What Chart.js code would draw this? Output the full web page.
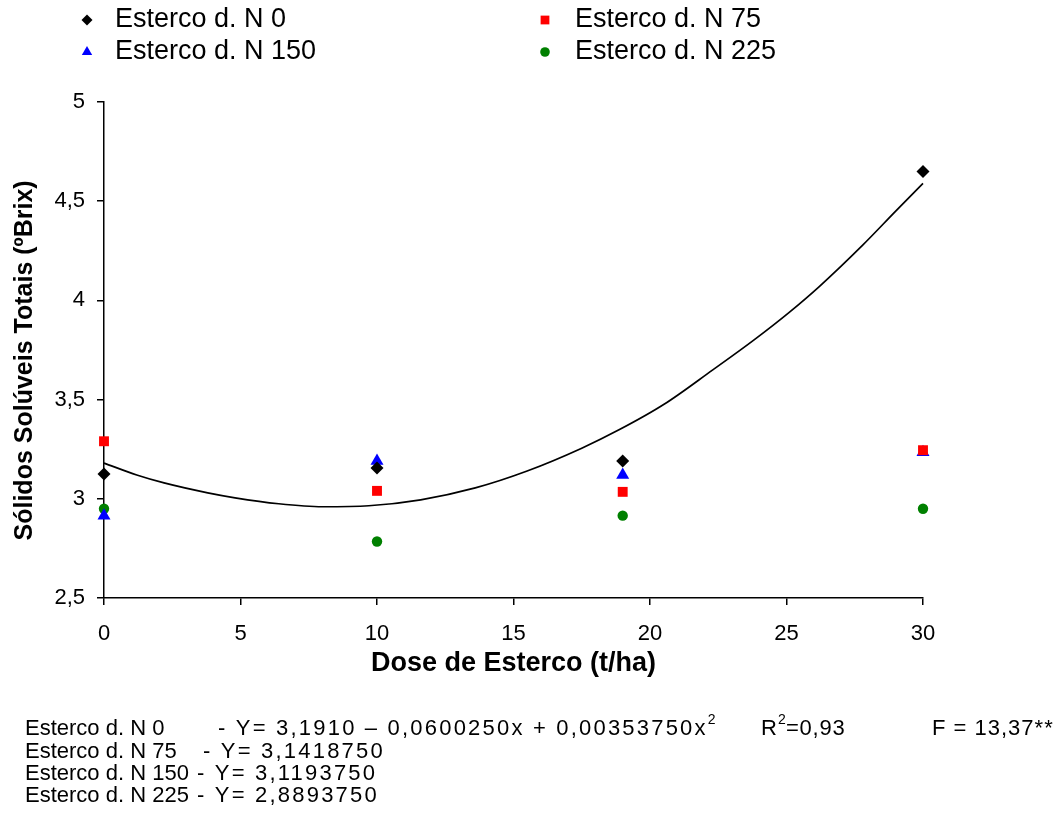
<!DOCTYPE html>
<html><head><meta charset="utf-8">
<script src="https://cdn.jsdelivr.net/npm/chart.js@4.4.1/dist/chart.umd.min.js"></script>
<style>html,body{margin:0;padding:0;background:#fff;}canvas{display:block;}</style>
</head><body>
<canvas id="c" width="1055" height="820"></canvas>
<script>
const doses = [0, 10, 19, 30];
const n0 = [3.125, 3.155, 3.19, 4.65];
const n75 = [3.29, 3.04, 3.035, 3.245];
const n150 = [2.915, 3.19, 3.12, 3.235];
const n225 = [2.95, 2.785, 2.915, 2.95];
const seriesLabels = ['Esterco d. N 0', 'Esterco d. N 75', 'Esterco d. N 150', 'Esterco d. N 225'];
const curveX = [0, 1.2, 2.2, 3.8, 4.8, 6.4, 8, 9.7, 11.6, 13.6, 15.5, 17.5, 18.9, 20.5, 22.3, 23.8, 25.1, 26.2, 27.8, 29, 30];
const curveY = [3.18, 3.12, 3.08, 3.03, 3.005, 2.975, 2.96, 2.965, 2.995, 3.055, 3.14, 3.255, 3.35, 3.475, 3.65, 3.8, 3.94, 4.07, 4.28, 4.45, 4.59];
const xTickLabels = ['0', '5', '10', '15', '20', '25', '30'];
const yTickLabels = ['2,5', '3', '3,5', '4', '4,5', '5'];
const eqLabels = ['Esterco d. N 0', 'Esterco d. N 75', 'Esterco d. N 150', 'Esterco d. N 225'];
const eqTexts = ['- Y= 3,1910 \u2013 0,0600250x + 0,00353750x', '- Y= 3,1418750', '- Y= 3,1193750', '- Y= 2,8893750'];
const r2Text = '0,93';
const fText = 'F = 13,37**';

const FAM = '"Liberation Sans", Arial, Helvetica, sans-serif';
const colors = ['#000000', '#ff0000', '#0000ff', '#008000'];
const styles = ['rectRot', 'rect', 'triangle', 'circle'];
const radii = [6.5, 7, 7.5, 5.2];
const legendRadii = [5.5, 6.2, 6, 4.8];
const seriesValues = [n0, n75, n150, n225];

const datasets = seriesValues.map((vals, i) => ({
  label: seriesLabels[i],
  data: doses.map((d, j) => ({x: d, y: vals[j]})),
  pointStyle: styles[i],
  pointRadius: radii[i],
  pointBackgroundColor: colors[i],
  pointBorderColor: colors[i],
  pointBorderWidth: 0,
  backgroundColor: colors[i],
  borderColor: colors[i],
  showLine: false,
  clip: false,
  order: 1
}));
datasets.push({
  label: 'curve',
  data: curveX.map((x, i) => ({x: x, y: curveY[i]})),
  showLine: true,
  pointRadius: 0,
  borderColor: '#000',
  borderWidth: 1.7,
  cubicInterpolationMode: 'monotone',
  fill: false,
  clip: false,
  order: 2
});

const legendPlugin = {
  id: 'customLegend',
  afterDraw(chart) {
    const ctx = chart.ctx;
    const cols = [{mx: 87, tx: 115}, {mx: 545, tx: 575}];
    const rows = [20, 52];
    for (let i = 0; i < 4; i++) {
      const ds = chart.data.datasets[i];
      const c = cols[i % 2], y = rows[Math.floor(i / 2)];
      ctx.save();
      ctx.fillStyle = ds.backgroundColor;
      ctx.strokeStyle = ds.borderColor;
      Chart.helpers.drawPoint(ctx, {pointStyle: ds.pointStyle, radius: legendRadii[i], borderWidth: 0, rotation: 0}, c.mx, y);
      ctx.fillStyle = '#000';
      ctx.font = '27px ' + FAM;
      ctx.textBaseline = 'middle';
      ctx.textAlign = 'left';
      ctx.fillText(ds.label, c.tx, y);
      ctx.restore();
    }
  }
};

const notesPlugin = {
  id: 'notes',
  afterDraw(chart) {
    const ctx = chart.ctx;
    const ys = [729, 752, 774, 796];
    const eqX = [218, 203, 197, 197];
    ctx.save();
    ctx.fillStyle = '#000';
    ctx.textBaseline = 'middle';
    ctx.textAlign = 'left';
    const big = '22px ' + FAM, small = '14px ' + FAM;
    for (let i = 0; i < 4; i++) {
      ctx.font = big;
      ctx.letterSpacing = '0px';
      ctx.fillText(eqLabels[i], 25, ys[i]);
      ctx.letterSpacing = '2.2px';
      ctx.fillText(eqTexts[i], eqX[i], ys[i]);
      if (i === 0) {
        const w = ctx.measureText(eqTexts[i]).width;
        ctx.font = small;
        ctx.letterSpacing = '0px';
        ctx.fillText('2', eqX[i] + w, ys[i] - 9);
      }
    }
    ctx.letterSpacing = '0px';
    ctx.font = big;
    ctx.fillText('R', 761, ys[0]);
    const rw = ctx.measureText('R').width;
    ctx.font = small;
    ctx.fillText('2', 761 + rw + 1, ys[0] - 9);
    ctx.font = big;
    ctx.letterSpacing = '0.8px';
    ctx.fillText('=' + r2Text, 761 + rw + 9, ys[0]);
    ctx.letterSpacing = '1px';
    ctx.fillText(fText, 932, ys[0]);
    ctx.restore();
  }
};

new Chart(document.getElementById('c'), {
  type: 'scatter',
  data: {datasets: datasets},
  options: {
    responsive: false,
    animation: false,
    devicePixelRatio: 1,
    layout: {padding: {left: 0, top: 102, right: 132, bottom: 136}},
    plugins: {legend: {display: false}, tooltip: {enabled: false}},
    scales: {
      x: {
        type: 'linear', min: 0, max: 30,
        afterBuildTicks(s) { s.ticks = xTickLabels.map(t => ({value: Number(t)})); },
        afterFit(s) { s.height = 86; },
        grid: {display: true, drawOnChartArea: false, drawTicks: true, tickLength: 7, color: '#000', lineWidth: 1.5},
        border: {display: true, color: '#000', width: 1.5},
        ticks: {color: '#000', font: {family: FAM, size: 22}, padding: 16, maxRotation: 0, autoSkip: false,
                callback: (v, i) => xTickLabels[i]},
        title: {display: true, text: 'Dose de Esterco (t/ha)', color: '#000', font: {family: FAM, size: 27, weight: 'bold'}, padding: {top: 0, bottom: 4}}
      },
      y: {
        type: 'linear', min: 2.5, max: 5,
        ticks: {stepSize: 0.5, color: '#000', font: {family: FAM, size: 22}, padding: 12,
                callback: (v, i) => yTickLabels[i]},
        afterFit(s) { s.width = 104; },
        grid: {display: true, drawOnChartArea: false, drawTicks: true, tickLength: 7, color: '#000', lineWidth: 1.5},
        border: {display: true, color: '#000', width: 1.5},
        title: {display: true, text: 'Sólidos Solúveis Totais (ºBrix)   ', color: '#000', font: {family: FAM, size: 25, weight: 'bold'}, padding: {top: 10, bottom: 0}}
      }
    }
  },
  plugins: [legendPlugin, notesPlugin]
});
</script>
</body></html>
